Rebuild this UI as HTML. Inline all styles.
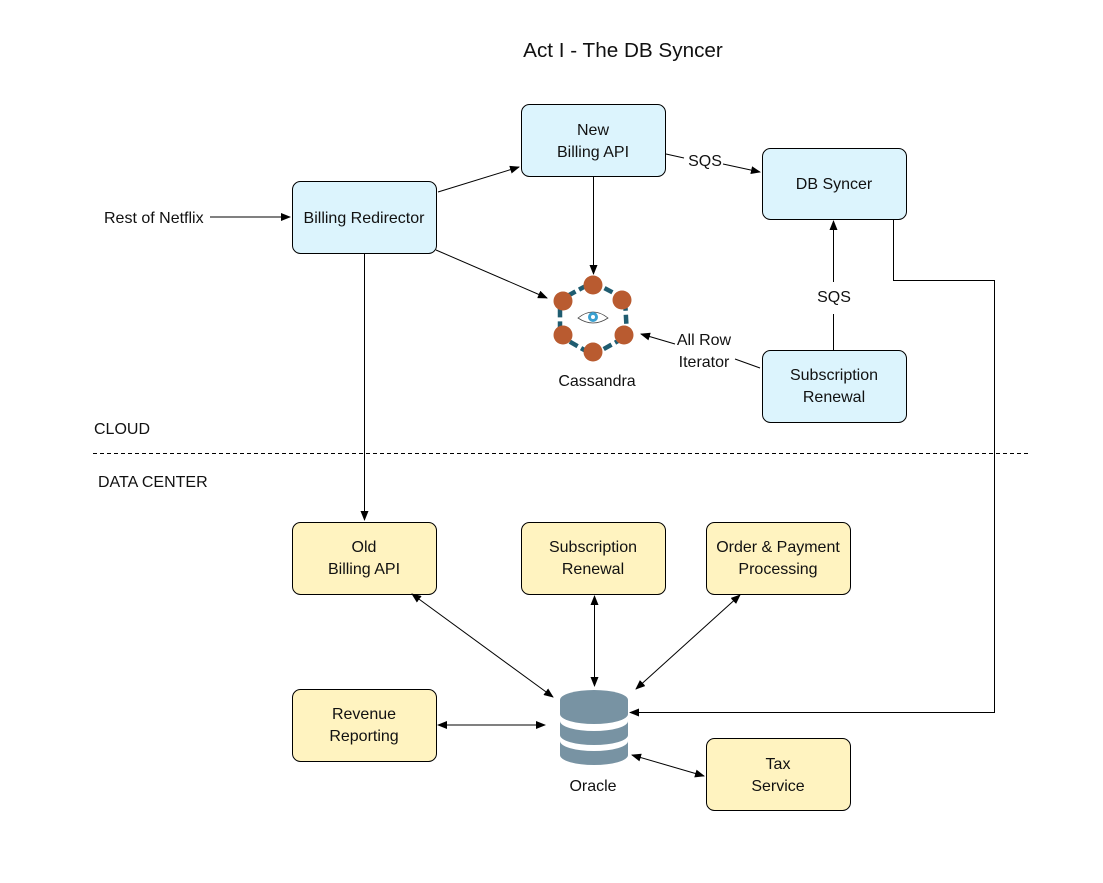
<!DOCTYPE html>
<html><head><meta charset="utf-8"><style>
html,body{margin:0;padding:0;background:#fff;}
svg{display:block;font-family:"Liberation Sans",sans-serif;}
text{font-size:16px;fill:#111;}
</style></head><body>
<svg width="1103" height="883" viewBox="0 0 1103 883" xmlns="http://www.w3.org/2000/svg">
<defs>
<marker id="a" markerWidth="10" markerHeight="8" refX="9" refY="4" orient="auto" markerUnits="userSpaceOnUse">
<path d="M0,0 L10,4 L0,8 z" fill="#000"/></marker>
<marker id="s" markerWidth="10" markerHeight="8" refX="1" refY="4" orient="auto" markerUnits="userSpaceOnUse">
<path d="M10,0 L0,4 L10,8 z" fill="#000"/></marker>
</defs>
<text x="623" y="57" text-anchor="middle" style="font-size:20.7px">Act I - The DB Syncer</text>

<g stroke="#000" stroke-width="1" fill="#dcf4fd">
<rect x="521.5" y="104.5" width="144" height="72" rx="8"/>
<rect x="762.5" y="148.5" width="144" height="71" rx="8"/>
<rect x="292.5" y="181.5" width="144" height="72" rx="8"/>
<rect x="762.5" y="350.5" width="144" height="72" rx="8"/>
</g>
<g stroke="#000" stroke-width="1" fill="#fff3c0">
<rect x="292.5" y="522.5" width="144" height="72" rx="8"/>
<rect x="521.5" y="522.5" width="144" height="72" rx="8"/>
<rect x="706.5" y="522.5" width="144" height="72" rx="8"/>
<rect x="292.5" y="689.5" width="144" height="72" rx="8"/>
<rect x="706.5" y="738.5" width="144" height="72" rx="8"/>
</g>

<g text-anchor="middle">
<text x="593" y="135">New</text><text x="593" y="157">Billing API</text>
<text x="834" y="189">DB Syncer</text>
<text x="364" y="223">Billing Redirector</text>
<text x="834" y="380">Subscription</text><text x="834" y="402">Renewal</text>
<text x="364" y="552">Old</text><text x="364" y="574">Billing API</text>
<text x="593" y="552">Subscription</text><text x="593" y="574">Renewal</text>
<text x="778" y="552">Order &amp; Payment</text><text x="778" y="574">Processing</text>
<text x="364" y="719">Revenue</text><text x="364" y="741">Reporting</text>
<text x="778" y="769">Tax</text><text x="778" y="791">Service</text>
<text x="597" y="386">Cassandra</text>
<text x="593" y="791">Oracle</text>
<text x="705" y="166">SQS</text>
<text x="834" y="302">SQS</text>
<text x="704" y="345">All Row</text>
<text x="704" y="367">Iterator</text>
</g>
<text x="104" y="223">Rest of Netflix</text>
<text x="94" y="434">CLOUD</text>
<text x="98" y="487">DATA CENTER</text>

<line x1="93" y1="453.5" x2="1030" y2="453.5" stroke="#000" stroke-dasharray="4,3"/>

<g stroke="#000" stroke-width="1" fill="none">
<line x1="210" y1="217" x2="290" y2="217" marker-end="url(#a)"/>
<line x1="438" y1="192" x2="519" y2="167" marker-end="url(#a)"/>
<line x1="666" y1="154" x2="684" y2="158"/>
<line x1="723" y1="164" x2="760" y2="172" marker-end="url(#a)"/>
<line x1="593.5" y1="177" x2="593.5" y2="274" marker-end="url(#a)"/>
<line x1="436" y1="250" x2="547" y2="298" marker-end="url(#a)"/>
<line x1="364.5" y1="254" x2="364.5" y2="520" marker-end="url(#a)"/>
<line x1="833.5" y1="350" x2="833.5" y2="314"/>
<line x1="833.5" y1="282" x2="833.5" y2="221" marker-end="url(#a)"/>
<line x1="760" y1="368" x2="735" y2="359"/>
<line x1="675" y1="344" x2="641" y2="334" marker-end="url(#a)"/>
<polyline points="893.5,219 893.5,280.5 994.5,280.5 994.5,712.5 630,712.5" marker-end="url(#a)"/>
<line x1="412" y1="594" x2="553" y2="697" marker-start="url(#s)" marker-end="url(#a)"/>
<line x1="594.5" y1="596" x2="594.5" y2="686" marker-start="url(#s)" marker-end="url(#a)"/>
<line x1="740" y1="595" x2="636" y2="689" marker-start="url(#s)" marker-end="url(#a)"/>
<line x1="438" y1="725" x2="545" y2="725" marker-start="url(#s)" marker-end="url(#a)"/>
<line x1="632" y1="755" x2="704" y2="776" marker-start="url(#s)" marker-end="url(#a)"/>
</g>

<!-- Cassandra -->
<polygon points="593,282 625,299 627,336 593,355 560,336 560,300" fill="none" stroke="#1f5c70" stroke-width="4.5" stroke-dasharray="9,4"/>
<g fill="#b95b30">
<circle cx="593" cy="285" r="9.5"/><circle cx="622" cy="300" r="9.5"/><circle cx="624" cy="335" r="9.5"/>
<circle cx="593" cy="352" r="9.5"/><circle cx="563" cy="335" r="9.5"/><circle cx="563" cy="301" r="9.5"/>
</g>
<path d="M578,318 Q593,306 608,318 Q593,328 578,318 z" fill="#fff" stroke="#444" stroke-width="0.8"/>
<circle cx="593" cy="317" r="5" fill="#3aa0d0"/><circle cx="593" cy="317" r="2" fill="#fff"/>

<!-- Oracle -->
<g fill="#7893a3">
<path d="M560,700 a34,10 0 0 1 68,0 v14 a34,10 0 0 1 -68,0 z"/>
<path d="M560,721 a34,10 0 0 0 68,0 v14 a34,10 0 0 1 -68,0 z"/>
<path d="M560,741 a34,10 0 0 0 68,0 v14 a34,10 0 0 1 -68,0 z"/>
</g>
</svg>
</body></html>
